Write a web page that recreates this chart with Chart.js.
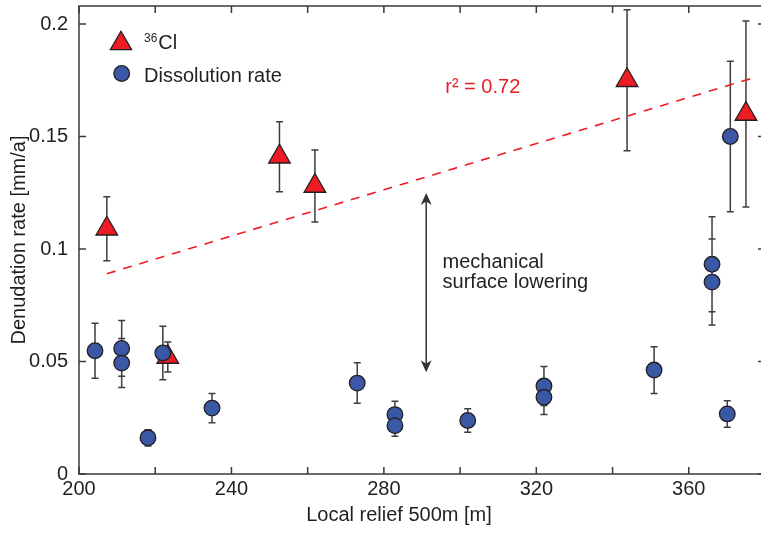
<!DOCTYPE html>
<html>
<head>
<meta charset="utf-8">
<script src="https://cdn.jsdelivr.net/npm/chart.js@4.4.1/dist/chart.umd.min.js"></script>
<style>
  html, body { margin: 0; padding: 0; background: #fff; overflow: hidden; }
  #wrap { width: 766px; height: 533px; }
</style>
</head>
<body>
<div id="wrap"><canvas id="chart" width="766" height="533"></canvas></div>
<script>
// 36Cl denudation rates (triangles) with 1-sigma errors
const clRelief = [207.3, 223.3, 252.6, 261.9, 343.8, 375.0];
const clRate   = [0.109, 0.052, 0.141, 0.128, 0.175, 0.160];
const clErr    = [0.0142, 0.0067, 0.0156, 0.016, 0.0313, 0.0413];

// dissolution rates (circles)
const dsRelief = [204.2, 211.2, 211.2, 218.1, 222.0, 234.9, 273.0, 282.9, 282.9,
                  302.0, 322.0, 322.0, 350.9, 366.1, 366.1, 370.1, 370.9];
const dsRate   = [0.0548, 0.0558, 0.0493, 0.0161, 0.0538, 0.0293, 0.0404, 0.0264, 0.0215,
                  0.0238, 0.0391, 0.0341, 0.0462, 0.0932, 0.0853, 0.0267, 0.150];
const dsErr    = [0.0122, 0.0124, 0.0109, 0.0036, 0.0119, 0.0065, 0.009, 0.0059, 0.0047,
                  0.0052, 0.0087, 0.0076, 0.0104, 0.0211, 0.0191, 0.0059, 0.0334];

// regression on the 36Cl rates
const fitRelief = [207.3, 377.4];
const fitRate   = [0.089, 0.1763];
const fitText   = 'r² = 0.72';
const fitTextAt = [296.1, 0.1725];

// arrow between the two groups
const gapRelief = 291.1;
const gapRate   = [0.1249, 0.0452];
const gapText   = ['mechanical', 'surface lowering'];
const gapTextAt = [295.4, 0.0905];

// axes
const xTickValues  = [200, 220, 240, 260, 280, 300, 320, 340, 360, 380];
const xLabelValues = [200, 240, 280, 320, 360];
const yTickValues  = [0, 0.05, 0.1, 0.15, 0.2];
const xTitle = 'Local relief 500m [m]';
const yTitle = 'Denudation rate [mm/a]';
const legendNames = ['36Cl', 'Dissolution rate'];

const ink = '#231f20';
const red = '#ed1c24';
const blue = '#3a58a6';
const FONT = "'Liberation Sans', Arial, sans-serif";

Chart.defaults.font.family = FONT;
Chart.defaults.font.size = 20;
Chart.defaults.color = ink;

const toPoints = (xs, ys) => xs.map((v, i) => ({ x: v, y: ys[i] }));

// no extra room for overhanging tick labels
function noPad(s) {
  s.paddingLeft = s.paddingRight = s.paddingTop = s.paddingBottom = 0;
}

function triangle(ctx, x, y, r) {
  ctx.beginPath();
  for (let k = 0; k < 3; k++) {
    const a = k * 2 * Math.PI / 3;
    const px = x + Math.sin(a) * r, py = y - Math.cos(a) * r;
    k ? ctx.lineTo(px, py) : ctx.moveTo(px, py);
  }
  ctx.closePath();
  ctx.fill();
  ctx.stroke();
}

function arrowHead(ctx, x, y, dir) {
  // dir = -1 pointing up, 1 pointing down
  ctx.beginPath();
  ctx.moveTo(x, y);
  ctx.lineTo(x - 5.5, y - dir * 12);
  ctx.lineTo(x, y - dir * 8.5);
  ctx.lineTo(x + 5.5, y - dir * 12);
  ctx.closePath();
  ctx.fill();
}

// box, inward ticks and error bars under the markers
const framePlugin = {
  id: 'frame',
  beforeDatasetsDraw(chart) {
    const { ctx, chartArea: a, scales: { x, y } } = chart;
    ctx.save();
    ctx.strokeStyle = '#3a3a3a';
    ctx.lineWidth = 1.5;
    ctx.strokeRect(a.left, a.top, a.right - a.left, a.bottom - a.top);
    ctx.beginPath();
    x.ticks.forEach(t => {
      const px = x.getPixelForValue(t.value);
      ctx.moveTo(px, a.bottom); ctx.lineTo(px, a.bottom - 7);
      ctx.moveTo(px, a.top); ctx.lineTo(px, a.top + 7);
    });
    y.ticks.forEach(t => {
      const py = y.getPixelForValue(t.value);
      ctx.moveTo(a.left, py); ctx.lineTo(a.left + 7, py);
      ctx.moveTo(a.right, py); ctx.lineTo(a.right - 7, py);
    });
    ctx.stroke();

    ctx.strokeStyle = '#3d3d3d';
    ctx.lineWidth = 1.5;
    chart.data.datasets.forEach(ds => {
      if (!ds.errors) return;
      ctx.beginPath();
      ds.data.forEach((p, i) => {
        const px = x.getPixelForValue(p.x);
        const top = y.getPixelForValue(p.y + ds.errors[i]);
        const bot = y.getPixelForValue(p.y - ds.errors[i]);
        ctx.moveTo(px, top); ctx.lineTo(px, bot);
        ctx.moveTo(px - 3.5, top); ctx.lineTo(px + 3.5, top);
        ctx.moveTo(px - 3.5, bot); ctx.lineTo(px + 3.5, bot);
      });
      ctx.stroke();
    });
    ctx.restore();
  }
};

// legend, axis titles and annotations
const notesPlugin = {
  id: 'notes',
  afterDatasetsDraw(chart) {
    const { ctx, chartArea: a, scales: { x, y } } = chart;
    ctx.save();

    // legend
    ctx.lineWidth = 1.3;
    ctx.strokeStyle = ink;
    ctx.fillStyle = red;
    triangle(ctx, 121, 43.5, 12.3);
    ctx.fillStyle = blue;
    ctx.beginPath();
    ctx.arc(121.7, 73.5, 7.8, 0, Math.PI * 2);
    ctx.fill();
    ctx.stroke();

    ctx.fillStyle = ink;
    ctx.textAlign = 'left';
    ctx.textBaseline = 'alphabetic';
    const sup = legendNames[0].slice(0, 2), elem = legendNames[0].slice(2);
    ctx.font = '12px ' + FONT;
    ctx.fillText(sup, 144, 41.7);
    const supW = ctx.measureText(sup).width;
    ctx.font = '20px ' + FONT;
    ctx.fillText(elem, 144 + supW + 1, 48.5);
    ctx.fillText(legendNames[1], 144, 81.5);

    // regression label
    ctx.fillStyle = red;
    ctx.fillText(fitText, x.getPixelForValue(fitTextAt[0]), y.getPixelForValue(fitTextAt[1]) + 7);

    // double arrow and its note
    const ax = x.getPixelForValue(gapRelief);
    const aTop = y.getPixelForValue(gapRate[0]);
    const aBot = y.getPixelForValue(gapRate[1]);
    ctx.strokeStyle = '#333';
    ctx.fillStyle = '#333';
    ctx.lineWidth = 1.5;
    ctx.beginPath();
    ctx.moveTo(ax, aTop + 8); ctx.lineTo(ax, aBot - 8);
    ctx.stroke();
    arrowHead(ctx, ax, aTop, -1);
    arrowHead(ctx, ax, aBot, 1);

    ctx.fillStyle = ink;
    const tx = x.getPixelForValue(gapTextAt[0]);
    const ty = y.getPixelForValue(gapTextAt[1]);
    ctx.fillText(gapText[0], tx, ty - 2.5);
    ctx.fillText(gapText[1], tx, ty + 18);

    // axis titles
    ctx.textAlign = 'center';
    ctx.fillText(xTitle, 399, 521);
    ctx.translate(25, (a.top + a.bottom) / 2);
    ctx.rotate(-Math.PI / 2);
    ctx.fillText(yTitle, 0, 0);
    ctx.restore();
  }
};

new Chart(document.getElementById('chart'), {
  type: 'scatter',
  data: {
    datasets: [
      {
        label: legendNames[1],
        data: toPoints(dsRelief, dsRate),
        errors: dsErr,
        pointStyle: 'circle',
        pointRadius: 7.8,
        backgroundColor: blue,
        borderColor: ink,
        borderWidth: 1.3,
        order: 1
      },
      {
        label: legendNames[0],
        data: toPoints(clRelief, clRate),
        errors: clErr,
        pointStyle: 'triangle',
        pointRadius: 12.5,
        backgroundColor: red,
        borderColor: ink,
        borderWidth: 1.3,
        order: 2
      },
      {
        label: 'fit',
        data: toPoints(fitRelief, fitRate),
        showLine: true,
        pointRadius: 0,
        borderColor: red,
        borderWidth: 1.6,
        borderDash: [9, 8],
        order: 3
      }
    ]
  },
  options: {
    responsive: false,
    animation: false,
    devicePixelRatio: 1,
    events: [],
    layout: { autoPadding: false, padding: { top: 6, right: 1, left: 0, bottom: 0 } },
    plugins: { legend: { display: false }, tooltip: { enabled: false } },
    scales: {
      x: {
        min: 200, max: 380,
        afterBuildTicks: s => { s.ticks = xTickValues.map(v => ({ value: v })); },
        afterFit: s => { s.height = 59; noPad(s); },
        grid: { display: false, drawTicks: false },
        border: { display: false },
        ticks: {
          padding: 3,
          color: ink,
          maxRotation: 0,
          autoSkip: false,
          callback: v => xLabelValues.includes(v) ? String(v) : ''
        }
      },
      y: {
        min: 0, max: 0.208,
        afterBuildTicks: s => { s.ticks = yTickValues.map(v => ({ value: v })); },
        afterFit: s => { s.width = 79; noPad(s); },
        grid: { display: false, drawTicks: false },
        border: { display: false },
        ticks: {
          padding: 11,
          color: ink,
          callback: v => String(+v.toFixed(2))
        }
      }
    }
  },
  plugins: [framePlugin, notesPlugin]
});
</script>
</body>
</html>
